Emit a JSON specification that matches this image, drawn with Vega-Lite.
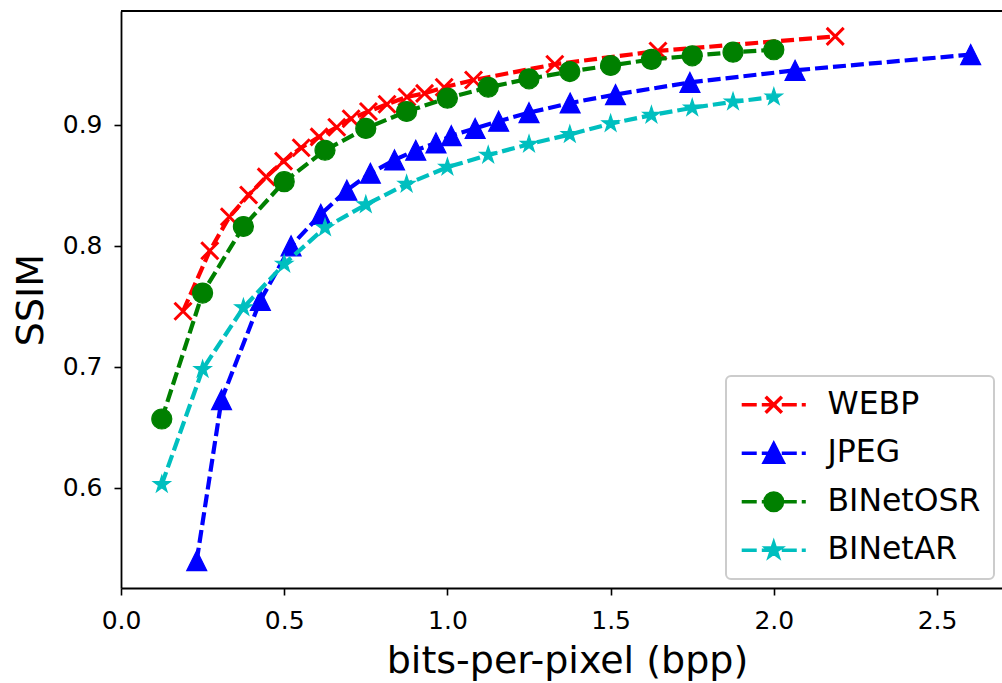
{
  "$schema": "https://vega.github.io/schema/vega-lite/v6.json",
  "width": 881,
  "height": 577,
  "autosize": {"type": "none"},
  "padding": {"left": 121, "top": 11, "right": 0, "bottom": 95},
  "background": "white",
  "config": {
    "font": "DejaVu Sans",
    "view": {"stroke": null},
    "axis": {
      "grid": false,
      "domainColor": "black",
      "domainWidth": 1.8,
      "tickColor": "black",
      "tickWidth": 1.6,
      "tickSize": 7,
      "labelColor": "black",
      "labelFontSize": 25,
      "labelFont": "DejaVu Sans",
      "labelFlush": false,
      "titleColor": "black",
      "titleFont": "DejaVu Sans",
      "titleFontWeight": "normal",
      "titleFontSize": 38
    }
  },
  "datasets": {
    "pts": [
      {"series": "WEBP", "bpp": 0.19, "ssim": 0.746},
      {"series": "WEBP", "bpp": 0.272, "ssim": 0.796},
      {"series": "WEBP", "bpp": 0.332, "ssim": 0.824},
      {"series": "WEBP", "bpp": 0.391, "ssim": 0.842},
      {"series": "WEBP", "bpp": 0.445, "ssim": 0.857},
      {"series": "WEBP", "bpp": 0.498, "ssim": 0.870},
      {"series": "WEBP", "bpp": 0.552, "ssim": 0.881},
      {"series": "WEBP", "bpp": 0.607, "ssim": 0.890},
      {"series": "WEBP", "bpp": 0.661, "ssim": 0.898},
      {"series": "WEBP", "bpp": 0.705, "ssim": 0.905},
      {"series": "WEBP", "bpp": 0.758, "ssim": 0.911},
      {"series": "WEBP", "bpp": 0.815, "ssim": 0.917},
      {"series": "WEBP", "bpp": 0.876, "ssim": 0.923},
      {"series": "WEBP", "bpp": 0.930, "ssim": 0.926},
      {"series": "WEBP", "bpp": 0.990, "ssim": 0.931},
      {"series": "WEBP", "bpp": 1.080, "ssim": 0.937},
      {"series": "WEBP", "bpp": 1.329, "ssim": 0.950},
      {"series": "WEBP", "bpp": 1.645, "ssim": 0.961},
      {"series": "WEBP", "bpp": 2.188, "ssim": 0.973},
      {"series": "JPEG", "bpp": 0.232, "ssim": 0.540},
      {"series": "JPEG", "bpp": 0.308, "ssim": 0.673},
      {"series": "JPEG", "bpp": 0.427, "ssim": 0.755},
      {"series": "JPEG", "bpp": 0.521, "ssim": 0.800},
      {"series": "JPEG", "bpp": 0.612, "ssim": 0.826},
      {"series": "JPEG", "bpp": 0.692, "ssim": 0.846},
      {"series": "JPEG", "bpp": 0.764, "ssim": 0.860},
      {"series": "JPEG", "bpp": 0.838, "ssim": 0.871},
      {"series": "JPEG", "bpp": 0.903, "ssim": 0.879},
      {"series": "JPEG", "bpp": 0.965, "ssim": 0.885},
      {"series": "JPEG", "bpp": 1.012, "ssim": 0.891},
      {"series": "JPEG", "bpp": 1.085, "ssim": 0.897},
      {"series": "JPEG", "bpp": 1.157, "ssim": 0.903},
      {"series": "JPEG", "bpp": 1.250, "ssim": 0.910},
      {"series": "JPEG", "bpp": 1.376, "ssim": 0.918},
      {"series": "JPEG", "bpp": 1.515, "ssim": 0.925},
      {"series": "JPEG", "bpp": 1.743, "ssim": 0.935},
      {"series": "JPEG", "bpp": 2.065, "ssim": 0.945},
      {"series": "JPEG", "bpp": 2.603, "ssim": 0.958},
      {"series": "BINetOSR", "bpp": 0.125, "ssim": 0.657},
      {"series": "BINetOSR", "bpp": 0.25, "ssim": 0.761},
      {"series": "BINetOSR", "bpp": 0.375, "ssim": 0.816},
      {"series": "BINetOSR", "bpp": 0.5, "ssim": 0.853},
      {"series": "BINetOSR", "bpp": 0.625, "ssim": 0.879},
      {"series": "BINetOSR", "bpp": 0.75, "ssim": 0.897},
      {"series": "BINetOSR", "bpp": 0.875, "ssim": 0.911},
      {"series": "BINetOSR", "bpp": 1.0, "ssim": 0.922},
      {"series": "BINetOSR", "bpp": 1.125, "ssim": 0.931},
      {"series": "BINetOSR", "bpp": 1.25, "ssim": 0.938},
      {"series": "BINetOSR", "bpp": 1.375, "ssim": 0.944},
      {"series": "BINetOSR", "bpp": 1.5, "ssim": 0.949},
      {"series": "BINetOSR", "bpp": 1.625, "ssim": 0.954},
      {"series": "BINetOSR", "bpp": 1.75, "ssim": 0.957},
      {"series": "BINetOSR", "bpp": 1.875, "ssim": 0.960},
      {"series": "BINetOSR", "bpp": 2.0, "ssim": 0.962},
      {"series": "BINetAR", "bpp": 0.125, "ssim": 0.603},
      {"series": "BINetAR", "bpp": 0.25, "ssim": 0.698},
      {"series": "BINetAR", "bpp": 0.375, "ssim": 0.749},
      {"series": "BINetAR", "bpp": 0.5, "ssim": 0.785},
      {"series": "BINetAR", "bpp": 0.625, "ssim": 0.815},
      {"series": "BINetAR", "bpp": 0.75, "ssim": 0.834},
      {"series": "BINetAR", "bpp": 0.875, "ssim": 0.851},
      {"series": "BINetAR", "bpp": 1.0, "ssim": 0.865},
      {"series": "BINetAR", "bpp": 1.125, "ssim": 0.875},
      {"series": "BINetAR", "bpp": 1.25, "ssim": 0.884},
      {"series": "BINetAR", "bpp": 1.375, "ssim": 0.892},
      {"series": "BINetAR", "bpp": 1.5, "ssim": 0.901},
      {"series": "BINetAR", "bpp": 1.625, "ssim": 0.908},
      {"series": "BINetAR", "bpp": 1.75, "ssim": 0.914},
      {"series": "BINetAR", "bpp": 1.875, "ssim": 0.919},
      {"series": "BINetAR", "bpp": 2.0, "ssim": 0.923}
    ]
  },
  "data": {"name": "pts"},
  "encoding": {
    "x": {
      "field": "bpp", "type": "quantitative",
      "scale": {"domain": [0, 2.699], "nice": false, "zero": false},
      "axis": {
        "values": [0, 0.5, 1.0, 1.5, 2.0, 2.5], "format": ".1f",
        "labelPadding": 13,
        "labelFlush": false,
        "title": "bits-per-pixel (bpp)",
        "titleX": 446, "titleY": 84, "titleAlign": "center", "titleBaseline": "alphabetic"
      }
    },
    "y": {
      "field": "ssim", "type": "quantitative",
      "scale": {"domain": [0.5174, 0.994], "nice": false, "zero": false},
      "axis": {
        "values": [0.6, 0.7, 0.8, 0.9], "format": ".1f",
        "labelPadding": 12,
        "title": "SSIM",
        "titleX": -79, "titleY": 288.5, "titleAngle": -90, "titleAlign": "center", "titleBaseline": "alphabetic"
      }
    },
    "color": {
      "field": "series", "type": "nominal",
      "scale": {
        "domain": ["WEBP", "JPEG", "BINetOSR", "BINetAR"],
        "range": ["#ff0000", "#0000ff", "#008000", "#00bfbf"]
      },
      "legend": {
        "title": null,
        "orient": "none",
        "legendX": 605,
        "legendY": 365,
        "padding": 13,
        "rowPadding": 15.5,
        "labelFontSize": 31.5,
        "labelFont": "DejaVu Sans",
        "labelColor": "black",
        "symbolSize": 324,
        "symbolStrokeWidth": 3,
        "symbolOffset": 19,
        "labelOffset": 38,
        "strokeColor": "#cccccc",
        "cornerRadius": 5,
        "fillColor": "white",
        "encode": {
          "legend": {
            "update": {
              "strokeWidth": {"value": 2}
            }
          },
          "symbols": {
            "update": {
              "shape": {"signal": "datum.value === 'WEBP' ? 'M-3.56,0L-1.89,0M-1.33,0L0.33,0M0.89,0L2.56,0M3.11,0L3.56,0M-0.9,-0.9L0.9,0.9M-0.9,0.9L0.9,-0.9' : datum.value === 'JPEG' ? 'M-3.56,0L-1.89,0M-1.33,0L0.33,0M0.89,0L2.56,0M3.11,0L3.56,0M0,-1.05L1.05,1L-1.05,1Z' : datum.value === 'BINetOSR' ? 'M-3.56,0L-1.89,0M-1.33,0L0.33,0M0.89,0L2.56,0M3.11,0L3.56,0M-0.98,0A0.98,0.98,0,1,0,0.98,0A0.98,0.98,0,1,0,-0.98,0Z' : 'M-3.56,0L-1.89,0M-1.33,0L0.33,0M0.89,0L2.56,0M3.11,0L3.56,0M0,-0.8L0.18,-0.247L0.761,-0.247L0.29,0.094L0.47,0.647L0,0.306L-0.47,0.647L-0.29,0.094L-0.761,-0.247L-0.18,-0.247Z'"},
              "size": {"value": 324},
              "strokeWidth": {"value": 3.5},
              "opacity": {"value": 1},
              "fillOpacity": {"value": 1},
              "strokeOpacity": {"value": 1},
              "fill": {"signal": "scale('color', datum.value)"},
              "stroke": {"signal": "scale('color', datum.value)"}
            }
          }
        }
      }
    }
  },
  "layer": [
    {
      "transform": [{"filter": "datum.series === 'WEBP'"}],
      "mark": {"type": "line", "strokeWidth": 4.2, "strokeDash": [13, 5]}
    },
    {
      "transform": [{"filter": "datum.series === 'WEBP'"}],
      "mark": {"type": "point", "filled": false, "opacity": 1, "size": 400, "strokeWidth": 3, "shape": "M-0.85,-0.85L0.85,0.85M-0.85,0.85L0.85,-0.85"}
    },
    {
      "transform": [{"filter": "datum.series === 'JPEG'"}],
      "mark": {"type": "line", "strokeWidth": 4.2, "strokeDash": [13, 5]}
    },
    {
      "transform": [{"filter": "datum.series === 'JPEG'"}],
      "mark": {"type": "point", "filled": true, "opacity": 1, "size": 400, "stroke": "#0000ff", "strokeWidth": 1.2, "shape": "M0,-1L1,1L-1,1Z"}
    },
    {
      "transform": [{"filter": "datum.series === 'BINetOSR'"}],
      "mark": {"type": "line", "strokeWidth": 4.2, "strokeDash": [13, 5]}
    },
    {
      "transform": [{"filter": "datum.series === 'BINetOSR'"}],
      "mark": {"type": "point", "filled": true, "opacity": 1, "size": 400, "stroke": "#008000", "strokeWidth": 1.2, "shape": "circle"}
    },
    {
      "transform": [{"filter": "datum.series === 'BINetAR'"}],
      "mark": {"type": "line", "strokeWidth": 4.2, "strokeDash": [13, 5]}
    },
    {
      "transform": [{"filter": "datum.series === 'BINetAR'"}],
      "mark": {"type": "point", "filled": true, "opacity": 1, "size": 400, "stroke": "#00bfbf", "strokeWidth": 1.2, "shape": "M0,-0.9L0.202,-0.278L0.856,-0.278L0.327,0.106L0.529,0.728L0,0.344L-0.529,0.728L-0.327,0.106L-0.856,-0.278L-0.202,-0.278Z"}
    },
    {
      "mark": {"type": "rule", "color": "black", "strokeWidth": 1.8},
      "encoding": {
        "x": {"datum": 0},
        "x2": {"datum": 2.699},
        "y": {"datum": 0.994},
        "color": {"value": "black"}
      }
    }
  ]
}
